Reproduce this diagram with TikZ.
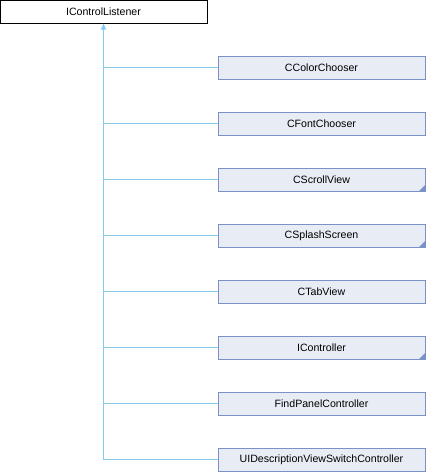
\documentclass[tikz,border=0pt]{standalone}
\usepackage{fontspec}
\setmainfont{Liberation Sans}
\usepackage{tikz}
\usetikzlibrary{arrows.meta}
\definecolor{boxfill}{RGB}{232,236,245}
\definecolor{boxline}{RGB}{122,146,200}
\definecolor{edgeblue}{RGB}{135,202,240}
\tikzset{cls/.style={draw=boxline, fill=boxfill, line width=1pt, minimum width=207pt, minimum height=23pt, inner sep=0pt, font=\fontsize{10.6}{12}\selectfont},
base/.style={cls, draw=black, fill=white},
%classes with more children get a small corner mark
more/.style={path picture={\fill[boxline] (path picture bounding box.south east) -- ++(-6pt,0) -- ++(6pt,6pt) -- cycle;}},
edge/.style={draw=edgeblue, line width=1pt}}

\begin{document}
\begin{tikzpicture}[x=1pt, y=-1pt]
\useasboundingbox (0,0) rectangle (426,472);
\node[base] (listener) at (103.5,11.5) {IControlListener};
\node[cls] (colorchooser) at (321.5,67.5) {CColorChooser};
\node[cls] (fontchooser) at (321.5,123.5) {CFontChooser};
\node[cls, more] (scrollview) at (321.5,179.5) {CScrollView};
\node[cls, more] (splashscreen) at (321.5,235.5) {CSplashScreen};
\node[cls] (tabview) at (321.5,291.5) {CTabView};
\node[cls, more] (controller) at (321.5,347.5) {IController};
\node[cls] (findpanel) at (321.5,403.5) {FindPanelController};
\node[cls] (switchctrl) at (321.5,459.5) {UIDescriptionViewSwitchController};
%\draw[step=10pt,color=gray] (0,0) grid (426,472);
\draw[edge, {Triangle[width=5pt,length=6pt]}-] (listener.south) -- (listener.south |- switchctrl.west);
\draw[edge] (listener.south |- colorchooser.west) -- (colorchooser.west);
\draw[edge] (listener.south |- fontchooser.west) -- (fontchooser.west);
\draw[edge] (listener.south |- scrollview.west) -- (scrollview.west);
\draw[edge] (listener.south |- splashscreen.west) -- (splashscreen.west);
\draw[edge] (listener.south |- tabview.west) -- (tabview.west);
\draw[edge] (listener.south |- controller.west) -- (controller.west);
\draw[edge] (listener.south |- findpanel.west) -- (findpanel.west);
\draw[edge] (listener.south |- switchctrl.west) -- (switchctrl.west);
\end{tikzpicture}
\end{document}
